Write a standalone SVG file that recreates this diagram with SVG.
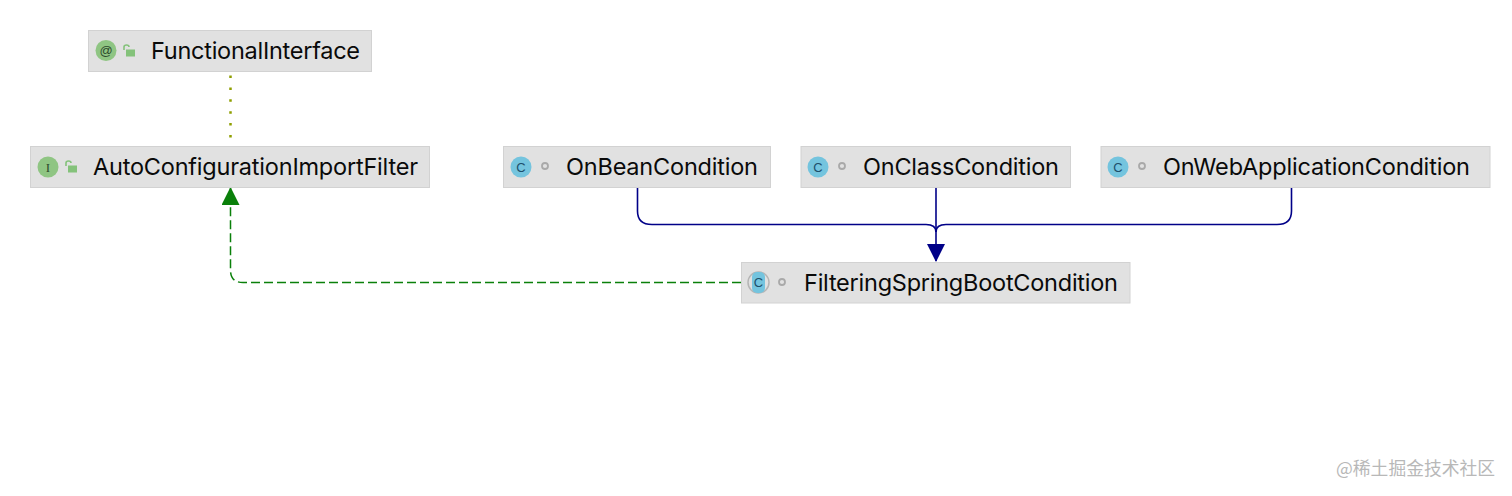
<svg xmlns="http://www.w3.org/2000/svg" width="1512" height="496" viewBox="0 0 1512 496">
<style>
.box{fill:#e1e1e1;stroke:#d2d2d2;stroke-width:1}
.lbl{font-family:Inter,"Liberation Sans",Arial,sans-serif;font-size:23.500px;fill:#0a0a0a}
.ci{fill:#8fc583}
.cc{fill:#74c4de}
.glyph{font-family:"Liberation Sans",sans-serif;font-size:13px;text-anchor:middle}
.lock{fill:#84c27a}
.lockb{fill:none;stroke:#84c27a;stroke-width:1.6}
.dot{fill:none;stroke:#a9a9a9;stroke-width:1.800}
.inh{fill:none;stroke:#000088;stroke-width:1.600}
</style>
<defs>
<marker id="blue" markerUnits="userSpaceOnUse" markerWidth="18" markerHeight="18" refX="17" refY="9" orient="auto"><path d="M0,0L18,9L0,18Z" fill="#000088"/></marker>
<marker id="green" markerUnits="userSpaceOnUse" markerWidth="18" markerHeight="18" refX="17" refY="9" orient="auto"><path d="M0,0L18,9L0,18Z" fill="#0a800a"/></marker>
</defs>
<rect width="1512" height="496" fill="#fff"/>
<g id="connectors">
<path d="M230.500 75.500V139" fill="none" stroke="#8f9f00" stroke-width="2.500" stroke-dasharray="2.500 9.400"/>
<path d="M741 282.500H243Q230.500 282.500 230.500 270V188" fill="none" stroke="#0a800a" stroke-width="1.500" stroke-dasharray="9 4" marker-end="url(#green)"/>
<path class="inh" d="M637.500 187V211Q637.500 224.500 652 224.500H926Q936 224.500 936 232"/>
<path class="inh" d="M1291.500 187V211Q1291.500 224.500 1277 224.500H946Q936 224.500 936 232"/>
<path class="inh" d="M936 187V261" stroke-width="2" marker-end="url(#blue)"/>
</g>
<g id="FunctionalInterface">
<rect class="box" x="88.500" y="30.500" width="283" height="41"/>
<circle class="ci" cx="106" cy="50.500" r="10.500"/>
<text class="glyph" x="106" y="55" fill="#2d4a2d">@</text>
<path class="lockb" d="M124 50V47Q124 45 126.500 45Q129 45 129 47"/><rect class="lock" x="126" y="49.500" width="9" height="7"/>
<text class="lbl" x="151" y="59" textLength="209">FunctionalInterface</text>
</g>
<g id="AutoConfigurationImportFilter">
<rect class="box" x="30.500" y="146.500" width="399" height="41"/>
<circle class="ci" cx="48" cy="167" r="10.500"/>
<text class="glyph" x="48" y="171.500" fill="#2d4a2d" style="font-family:'Liberation Serif',serif">I</text>
<path class="lockb" d="M66 166V163Q66 161 68.500 161Q71 161 71 163"/><rect class="lock" x="68" y="165.500" width="9" height="7"/>
<text class="lbl" x="93" y="175" textLength="325">AutoConfigurationImportFilter</text>
</g>
<g id="OnBeanCondition">
<rect class="box" x="503.500" y="146.500" width="267" height="41"/>
<circle class="cc" cx="521" cy="167" r="10.500"/>
<text class="glyph" x="521" y="171.500" fill="#1d4f6b">C</text>
<circle class="dot" cx="545" cy="166" r="3"/>
<text class="lbl" x="566" y="175" textLength="192">OnBeanCondition</text>
</g>
<g id="OnClassCondition">
<rect class="box" x="801" y="146.500" width="269.500" height="41"/>
<circle class="cc" cx="818" cy="167" r="10.500"/>
<text class="glyph" x="818" y="171.500" fill="#1d4f6b">C</text>
<circle class="dot" cx="842" cy="166" r="3"/>
<text class="lbl" x="863" y="175" textLength="196">OnClassCondition</text>
</g>
<g id="OnWebApplicationCondition">
<rect class="box" x="1101" y="146.500" width="389" height="41"/>
<circle class="cc" cx="1118" cy="167" r="10.500"/>
<text class="glyph" x="1118" y="171.500" fill="#1d4f6b">C</text>
<circle class="dot" cx="1142" cy="166" r="3"/>
<text class="lbl" x="1163" y="175" textLength="307">OnWebApplicationCondition</text>
</g>
<g id="FilteringSpringBootCondition">
<rect class="box" x="741.500" y="262.500" width="388.500" height="40.500"/>
<circle cx="758.500" cy="282.500" r="10.500" fill="none" stroke="#b5b5b5" stroke-width="1.500"/>
<rect class="cc" x="752" y="272" width="13" height="21" rx="5"/>
<text class="glyph" x="758.500" y="287" fill="#1d4f6b">C</text>
<circle class="dot" cx="782" cy="282" r="3"/>
<text class="lbl" x="804" y="291" textLength="314">FilteringSpringBootCondition</text>
</g>
<text x="1336" y="475" font-family="'Noto Sans CJK SC',sans-serif" font-size="17.800" fill="#b8b8b8">@稀土掘金技术社区</text>
</svg>
